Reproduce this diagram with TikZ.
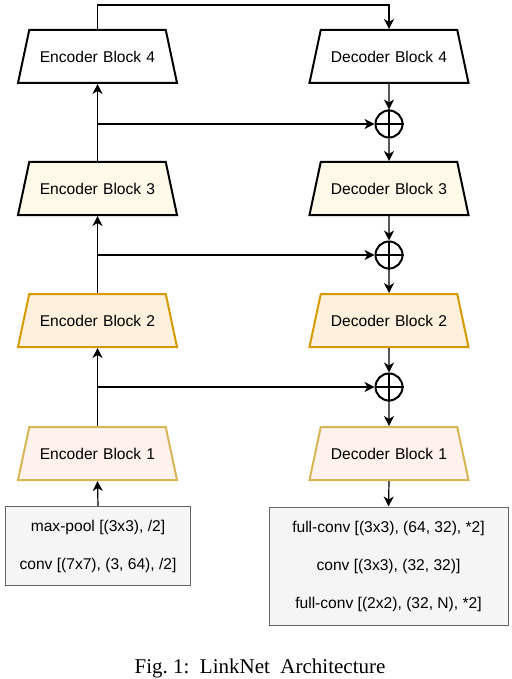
\documentclass[tikz,border=0pt]{standalone}
\usepackage{fontspec}
\setmainfont{Liberation Serif}
\setsansfont{Liberation Sans}
\usepackage{tikz}
\usetikzlibrary{shapes.geometric}
\usetikzlibrary{arrows.meta}
\usetikzlibrary{positioning}

\definecolor{creamfill}{HTML}{FFF9EA}
\definecolor{orangefill}{HTML}{FFF0DE}
\definecolor{orangeline}{HTML}{D79B00}
\definecolor{pinkfill}{HTML}{FFF1EC}
\definecolor{goldline}{HTML}{D6B656}
\definecolor{boxfill}{HTML}{F5F5F5}
\definecolor{boxline}{HTML}{666666}

\begin{document}
\begin{tikzpicture}[x=1pt, y=-1pt,
    block/.style={trapezium, trapezium angle=78, draw, line width=2pt,
      text width=120pt, align=center, text height=11.4pt, text depth=0pt,
      inner xsep=8.25pt, inner ysep=20.8pt,
      font=\sffamily\fontsize{15.6}{18}\selectfont},
    layerbox/.style={rectangle, draw=boxline, fill=boxfill, line width=1pt, align=center,
      font=\sffamily\fontsize{15.6}{38}\selectfont},
    addop/.style={circle, draw, line width=2pt, minimum size=27pt, inner sep=0pt},
    flow/.style={line width=1.2pt, -{Stealth[length=10pt, width=10pt, inset=3pt]}}]
        % Fix the page size
        \useasboundingbox (0,0) rectangle (511,679);

        % Encoder column
        \node[block, fill=white] (enc4) at (97.5,56.5) {Encoder Block 4};
        \node[block, fill=creamfill] (enc3) at (97.5,188.5) {Encoder Block 3};
        \node[block, draw=orangeline, fill=orangefill] (enc2) at (97.5,320.5) {Encoder Block 2};
        \node[block, draw=goldline, fill=pinkfill] (enc1) at (97.5,453.5) {Encoder Block 1};

        % Decoder column
        \node[block, fill=white] (dec4) at (389,56.5) {Decoder Block 4};
        \node[block, fill=creamfill] (dec3) at (389,188.5) {Decoder Block 3};
        \node[block, draw=orangeline, fill=orangefill] (dec2) at (389,320.5) {Decoder Block 2};
        \node[block, draw=goldline, fill=pinkfill] (dec1) at (389,453.5) {Decoder Block 1};

        % Additions
        \foreach \k/\y in {3/124, 2/255, 1/387}
        {
          \node[addop] (add\k) at (389,\y) {};
          \draw[line width=1.2pt] (add\k.north) -- (add\k.south);
          \draw[line width=1.2pt] (add\k.west) -- (add\k.east);
        }

        % Input and output layers
        \node[layerbox, minimum width=185pt, minimum height=79pt] (inlayer) at (98,546)
          {max-pool [(3x3), /2]\\conv [(7x7), (3, 64), /2]};
        \node[layerbox, minimum width=239pt, minimum height=118pt] (outlayer) at (388.5,566)
          {full-conv [(3x3), (64, 32), *2]\\conv [(3x3), (32, 32)]\\full-conv [(2x2), (32, N), *2]};

        % Branch points and the top route
        \coordinate (top) at (240,5);
        \coordinate (b3) at (enc4.south |- add3);
        \coordinate (b2) at (enc3.south |- add2);
        \coordinate (b1) at (enc2.south |- add1);

        % Encoder path
        \draw[flow] (inlayer.north) -- (enc1.south);
        \draw[flow] (enc1.north) -- (enc2.south);
        \draw[flow] (enc2.north) -- (enc3.south);
        \draw[flow] (enc3.north) -- (enc4.south);

        % Skip connections
        \draw[flow] (enc4.north) -- (enc4.north |- top) -| (dec4.north);
        \draw[flow] (b3) -- (add3);
        \draw[flow] (b2) -- (add2);
        \draw[flow] (b1) -- (add1);

        % Decoder path
        \draw[flow] (dec4.south) -- (add3.north);
        \draw[flow] (add3.south) -- (dec3.north);
        \draw[flow] (dec3.south) -- (add2.north);
        \draw[flow] (add2.south) -- (dec2.north);
        \draw[flow] (dec2.south) -- (add1.north);
        \draw[flow] (add1.south) -- (dec1.north);
        \draw[flow] (dec1.south) -- (outlayer.north);

        % Caption
        \node[font=\fontsize{21}{24}\selectfont] (caption) at (260,668) {Fig.\ 1:\ \ LinkNet\ \ Architecture};
      \end{tikzpicture}
\end{document}
